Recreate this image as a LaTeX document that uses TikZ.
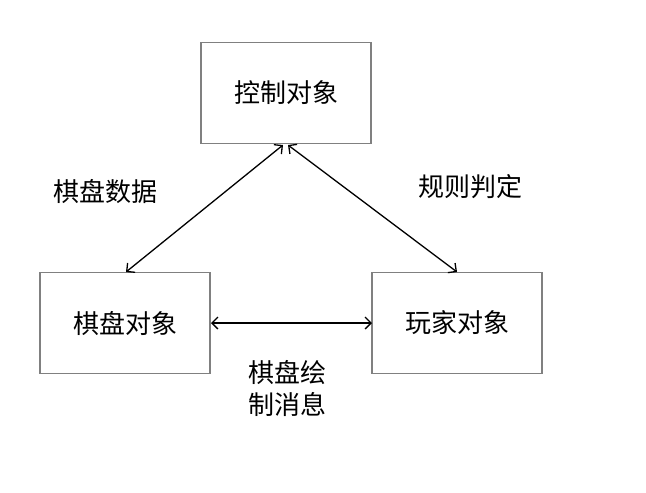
\documentclass[tikz,border=0pt]{standalone}
\usepackage{fontspec}
\setmainfont{Noto Sans CJK SC}
\usetikzlibrary{arrows.meta}
\begin{document}
\begin{tikzpicture}[x=1pt,y=-1pt,
  obj/.style={draw=black!50,line width=1.3pt,minimum width=170pt,minimum height=101pt,inner sep=0pt,font=\fontsize{26}{32}\selectfont},
  lbl/.style={font=\fontsize{26}{32}\selectfont,align=center,inner sep=0pt},
  link/.style={line width=1.3pt,{Straight Barb[length=6pt,width=12pt]}-{Straight Barb[length=6pt,width=12pt]}}]
\useasboundingbox (0,0) rectangle (646,493);
\node[obj] (ctrl) at (286,93) {控制对象};
\node[obj] (board) at (125,323) {棋盘对象};
\node[obj] (player) at (457,323) {玩家对象};
\coordinate (ctrlL) at (283,145);
\coordinate (ctrlR) at (288,145);
\coordinate (boardT) at (126,272);
\coordinate (playerT) at (457,272);
\coordinate (boardR) at (211,323);
\coordinate (playerL) at (372,323);
\draw[link] (ctrlL) -- (boardT);
\draw[link] (ctrlR) -- (playerT);
\draw[link] (boardR) -- (playerL);
\node[lbl] (l1) at (105,192) {棋盘数据};
\node[lbl] (l2) at (470,187) {规则判定};
\node[lbl] (l3) at (287,388) {棋盘绘\\制消息};
\end{tikzpicture}
\end{document}
